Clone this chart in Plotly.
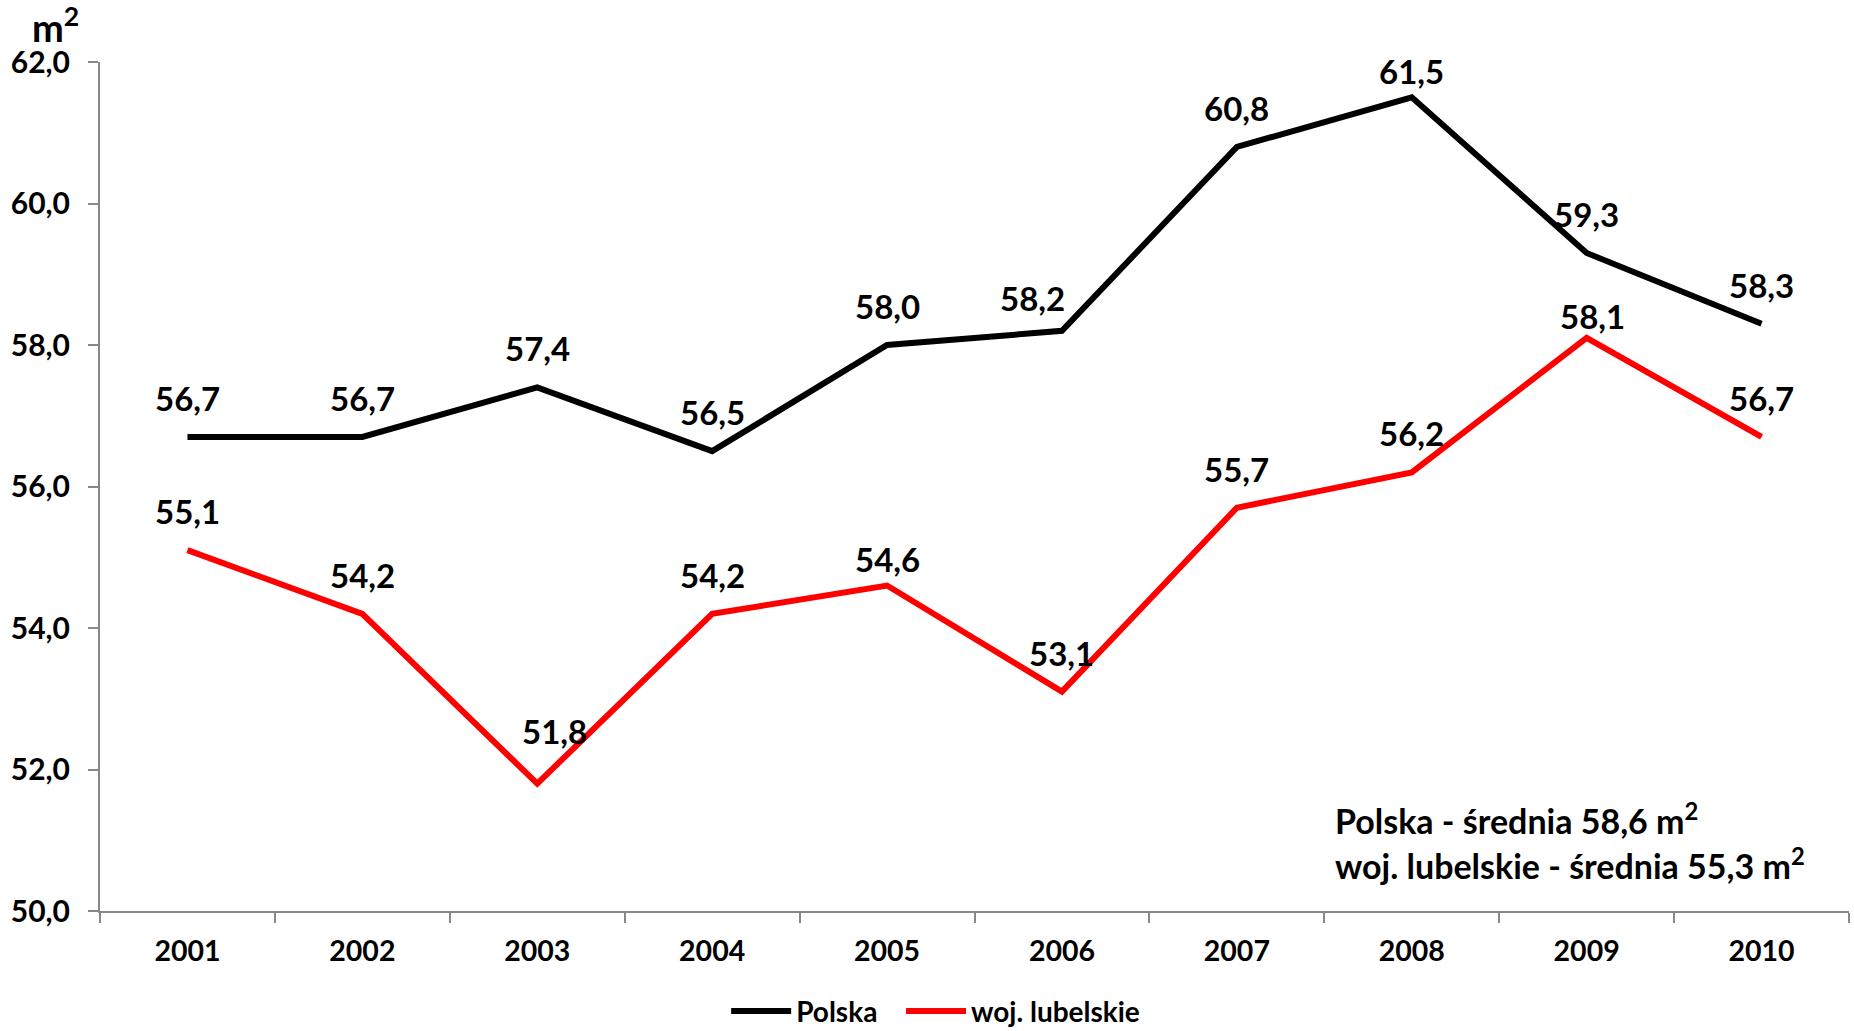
import plotly.graph_objects as go

years = ["2001", "2002", "2003", "2004", "2005", "2006", "2007", "2008", "2009", "2010"]
polska = [56.7, 56.7, 57.4, 56.5, 58.0, 58.2, 60.8, 61.5, 59.3, 58.3]
lubelskie = [55.1, 54.2, 51.8, 54.2, 54.6, 53.1, 55.7, 56.2, 58.1, 56.7]
series_names = ["Polska", "woj. lubelskie"]
avg_polska = "58,6"
avg_lubelskie = "55,3"
y_ticks = [50, 52, 54, 56, 58, 60, 62]

FONT = "Lato, 'Open Sans', sans-serif"
# label placement tweaks (pixels) for labels moved by hand in the original
LABEL_DY = 39
label_adjust = {(0, 5): (-29, 33), (0, 7): (0, 26), (1, 2): (17, 53), (1, 4): (0, 27), (1, 8): (6, 22)}

fig = go.Figure()
for k, (name, vals, color) in enumerate([(series_names[0], polska, "#000000"),
                                         (series_names[1], lubelskie, "#ff0000")]):
    fig.add_trace(go.Scatter(x=years, y=vals, mode="lines", name=name,
                             legend="legend" if k == 0 else "legend2",
                             line=dict(color=color, width=6)))

annotations = []
for s, vals in enumerate((polska, lubelskie)):
    for i, v in enumerate(vals):
        dx, dy = label_adjust.get((s, i), (0, LABEL_DY))
        annotations.append(dict(x=i, y=v, xref="x", yref="y", text=f"{v:.1f}".replace(".", ","),
                                showarrow=False, yanchor="middle", yshift=dy, xshift=dx,
                                font=dict(family=FONT, size=33, color="black", weight="bold")))

annotations.append(dict(x=0.705, y=0.108, xref="paper", yref="paper", xanchor="left", yanchor="middle",
                        text=f"Polska - średnia {avg_polska} m<sup>2</sup>", showarrow=False,
                        font=dict(family=FONT, size=34, color="black", weight="bold")))
annotations.append(dict(x=0.705, y=0.055, xref="paper", yref="paper", xanchor="left", yanchor="middle",
                        text=f"woj. lubelskie - średnia {avg_lubelskie} m<sup>2</sup>", showarrow=False,
                        font=dict(family=FONT, size=34, color="black", weight="bold")))
annotations.append(dict(x=-0.0257, y=1.043, xref="paper", yref="paper", xanchor="center", yanchor="middle",
                        text="m<sup>2</sup>", showarrow=False,
                        font=dict(family=FONT, size=38, color="black", weight="bold")))

legend_style = dict(orientation="h", xanchor="left", yref="container", y=0.019, yanchor="middle",
                    font=dict(family=FONT, size=28, color="black", weight="bold"),
                    itemwidth=60, bgcolor="rgba(0,0,0,0)")

fig.update_layout(
    width=1854, height=1031,
    margin=dict(l=100, r=5, t=62, b=120),
    plot_bgcolor="white", paper_bgcolor="white",
    separators=", ",
    showlegend=True,
    legend=dict(x=0.358, **legend_style),
    legend2=dict(x=0.458, **legend_style),
    annotations=annotations,
    font=dict(family=FONT, color="black"),
)
fig.update_xaxes(type="category", range=[-0.5, 9.5], showline=True, linecolor="#888888", linewidth=2,
                 ticks="outside", tickson="boundaries", ticklen=10, tickcolor="#888888", tickwidth=2,
                 showgrid=False, zeroline=False, ticklabelstandoff=14, automargin=False,
                 tickfont=dict(family=FONT, size=28.5, color="black", weight="bold"))
fig.update_yaxes(range=[50, 62], tickvals=y_ticks, tickformat=".1f", showline=True, linecolor="#888888",
                 linewidth=2, ticks="outside", ticklen=10, tickcolor="#888888", tickwidth=2,
                 showgrid=False, zeroline=False, ticklabelstandoff=12, automargin=False,
                 tickfont=dict(family=FONT, size=30, color="black", weight="bold"))

fig.write_html("out.html", config={"displayModeBar": False},
               post_script="document.body.style.margin='0';document.body.style.overflow='hidden';")
